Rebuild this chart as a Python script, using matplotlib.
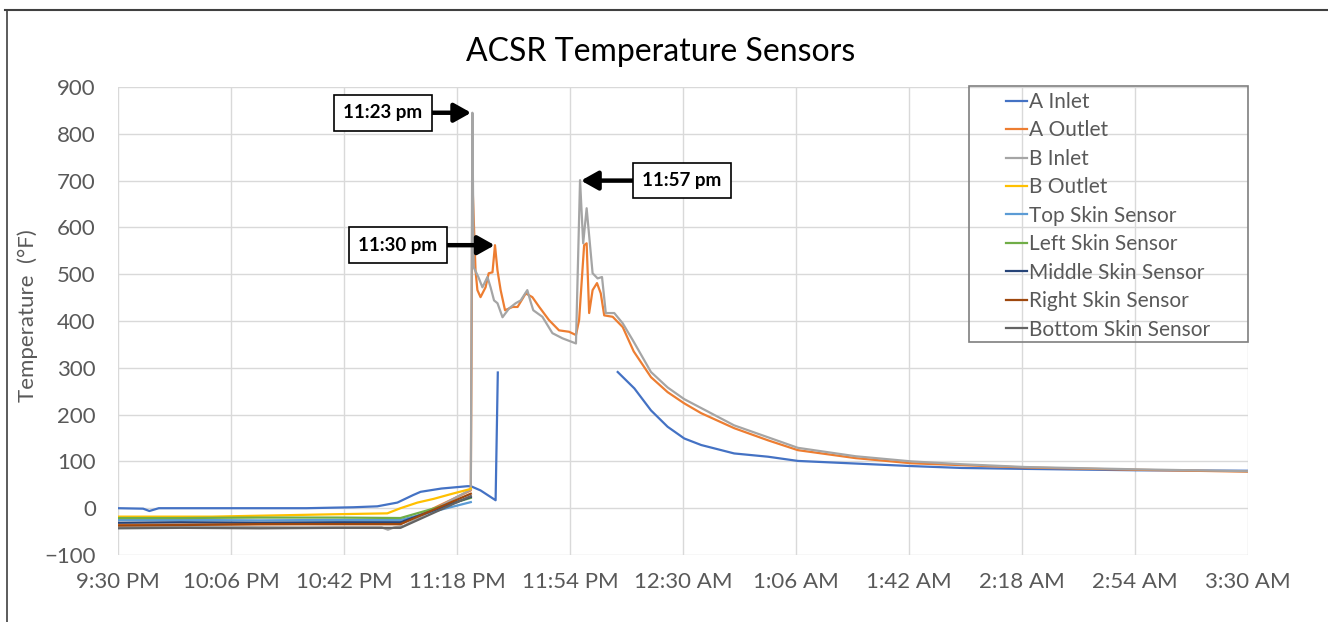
import numpy as np
import matplotlib
matplotlib.use("Agg")
import matplotlib.pyplot as plt
from matplotlib.patches import Rectangle
from matplotlib.lines import Line2D

plt.rcParams['font.family'] = ['Lato', 'DejaVu Sans']

nan = np.nan

# time axis: minutes after 9:30 PM
tick_pos = np.arange(0, 361, 36)
tick_labels = ["9:30 PM", "10:06 PM", "10:42 PM", "11:18 PM", "11:54 PM", "12:30 AM",
               "1:06 AM", "1:42 AM", "2:18 AM", "2:54 AM", "3:30 AM"]

a_inlet_t = [0, 8, 10, 13, 30, 60, 75, 82.6, 89, 94, 96.4, 103, 111.3, 112.4, 115.5, 120.3, 121, 121.1,
             159.2, 164.5, 169.8, 175.1, 180.4, 185.8, 196.3, 207.1, 216.6, 252.8, 268.7, 289, 325, 360]
a_inlet_v = [0, -1, -6, 0, 0, 0, 2, 4, 12, 28, 35, 42, 47, 47, 38, 17, 290, nan,
             291, 256, 209, 174, 149, 135, 117, 110, 101, 90, 86, 84, 81, 80]

a_outlet_t = [0, 30, 60, 90, 112.4, 112.9, 113.9, 114.5, 115.5, 117.1, 118.1, 119.3, 120.1, 120.9,
              121.9, 123.3, 125.7, 127.3, 129.9, 132.0, 134.2, 137.3, 140.5, 143.7, 145.9, 146.9,
              148.5, 149.3, 150.1, 151.2, 152.6, 153.8, 154.9, 157.6, 160.8, 164.3, 169.8, 175.1,
              180.4, 185.8, 196.3, 207.1, 216.6, 235, 252.8, 268.7, 289, 325, 360]
a_outlet_v = [-35, -35, -34, -34, 38, 700, 508, 466, 451, 472, 502, 504, 562, 508,
              466, 423, 430, 430, 459, 451, 430, 402, 380, 377, 370, 402,
              562, 566, 417, 466, 481, 459, 412, 409, 387, 335, 280, 248,
              224, 203, 171, 145, 124, 107, 96, 92, 87, 82, 78]

b_inlet_t = [0, 30, 60, 84, 86, 88, 91, 112.4, 112.9, 113.3, 114.8, 116.1, 117.7, 118.7, 119.8,
             120.9, 122.5, 124.6, 126.7, 128.3, 130.4, 131.5, 132.3, 135.2, 138.4, 141.6, 145.9,
             147.2, 148.2, 149.3, 151.2, 152.8, 154.2, 155.4, 158.1, 160.8, 164.0, 169.8, 175.1,
             180.4, 196.3, 216.6, 235, 252.8, 268.7, 289, 325, 360]
b_inlet_v = [-40, -40, -41, -41, -46, -41, -38, 40, 845, 515, 494, 472, 494, 472, 444,
             438, 408, 427, 438, 444, 466, 440, 423, 409, 374, 363, 352,
             701, 566, 641, 502, 491, 494, 417, 417, 395, 359, 291, 258,
             233, 177, 129, 111, 100, 94, 88, 83, 79]

b_outlet_t = [0, 30, 68.6, 85.8, 90, 95.4, 100.6, 106, 111.7, 112.4]
b_outlet_v = [-18, -18, -13, -11, 0, 12, 20, 30, 40, 42]

skin_t = [0, 20, 45, 70, 90, 112.4]
top_skin_v = [-25, -25, -26, -25, -25, 13]
left_skin_v = [-21, -21, -20, -20, -21, 22]
middle_skin_v = [-31, -30, -31, -30, -30, 24]
right_skin_v = [-37, -36, -34, -34, -34, 31]
bottom_skin_v = [-43, -42, -43, -42, -42, 26]

series = [
    ("A Inlet", a_inlet_t, a_inlet_v, "#4472C4"),
    ("A Outlet", a_outlet_t, a_outlet_v, "#ED7D31"),
    ("B Inlet", b_inlet_t, b_inlet_v, "#A5A5A5"),
    ("B Outlet", b_outlet_t, b_outlet_v, "#FFC000"),
    ("Top Skin Sensor", skin_t, top_skin_v, "#5B9BD5"),
    ("Left Skin Sensor", skin_t, left_skin_v, "#70AD47"),
    ("Middle Skin Sensor", skin_t, middle_skin_v, "#264478"),
    ("Right Skin Sensor", skin_t, right_skin_v, "#9E480E"),
    ("Bottom Skin Sensor", skin_t, bottom_skin_v, "#636363"),
]

W, H = 1328, 622
fig = plt.figure(figsize=(W / 100, H / 100), dpi=100)
ax = fig.add_axes([118 / W, 1 - 555 / H, 1130 / W, 468 / H])

for name, t, v, c in series:
    ax.plot(t, v, color=c, lw=1.6, label=name)

ax.set_xlim(0, 360)
ax.set_ylim(-100, 900)
ax.set_xticks(tick_pos)
ax.set_xticklabels(tick_labels)
ax.set_yticks(np.arange(-100, 901, 100))
ax.tick_params(length=0, labelsize=16, colors="#595959")
ax.tick_params(axis="y", pad=16)
ax.tick_params(axis="x", pad=12)
ax.grid(True, color="#D9D9D9", lw=1)
ax.set_axisbelow(True)
for s in ax.spines.values():
    s.set_visible(False)

fig.text(661 / W, 1 - 52 / H, "ACSR Temperature Sensors", ha="center", va="center",
         fontsize=23, color="#000000")
fig.text(28 / W, 1 - 316 / H, "Temperature  (°F)", rotation=90, ha="center", va="center",
         fontsize=16, color="#595959")

leg = ax.legend(loc="upper left", bbox_to_anchor=(1006 / W, 1 - 92 / H), bbox_transform=fig.transFigure,
                frameon=False, fontsize=15, handlelength=1.0, handletextpad=0.1,
                labelspacing=0.405, borderpad=0, borderaxespad=0)
for txt in leg.get_texts():
    txt.set_color("#595959")
fig.add_artist(Rectangle((969 / W, 1 - 342 / H), 279 / W, 256 / H, transform=fig.transFigure,
                         fill=False, ec="#7F7F7F", lw=1.2))

# callouts
notes = [("11:23 pm", 112.5, 845, 84.3, 845),
         ("11:30 pm", 120.0, 562, 89.2, 562),
         ("11:57 pm", 147.5, 700, 179.7, 700)]
for label, px, py, tx, ty in notes:
    ax.annotate(label, xy=(px, py), xytext=(tx, ty), ha="center", va="center",
                fontsize=13.5, fontweight="bold", color="black",
                bbox=dict(boxstyle="square,pad=0.5", fc="white", ec="black", lw=1.2),
                arrowprops=dict(arrowstyle="-|>,head_length=0.75,head_width=0.42", lw=3.2,
                                color="black", shrinkA=0, shrinkB=0))

# outer frame of the original screenshot
fig.add_artist(Line2D([5 / W, 1], [1 - 10 / H] * 2, color="#404040", lw=1.5))
fig.add_artist(Line2D([7 / W] * 2, [0, 1 - 10 / H], color="#404040", lw=1.2))

fig.savefig("out.png", dpi=100)
